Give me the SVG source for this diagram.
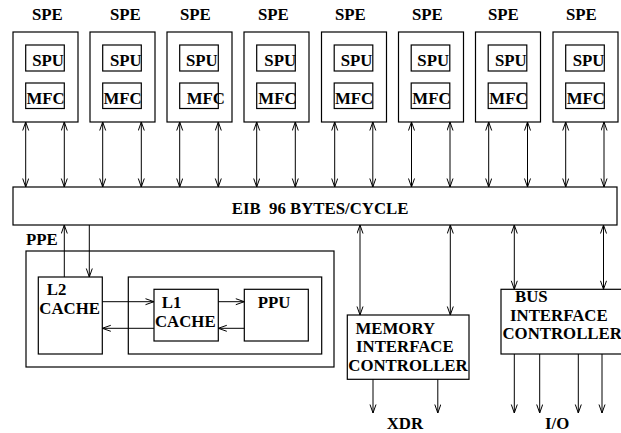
<svg xmlns="http://www.w3.org/2000/svg" width="621" height="433" viewBox="0 0 621 433">
<defs>
<marker id="ah" markerUnits="userSpaceOnUse" markerWidth="10" markerHeight="8" refX="9" refY="3.5" orient="auto-start-reverse">
<path d="M0.5,0.5 L9,3.5 L0.5,6.5" fill="none" stroke="#000" stroke-width="1"/>
</marker>
</defs>
<style>
rect{fill:#fff;stroke:#000;stroke-width:1.2}
text{font-family:"Liberation Serif","Times New Roman",serif;font-weight:bold;font-size:16.8px;fill:#000}
.c line{stroke:#000;stroke-width:1}
.d{marker-start:url(#ah);marker-end:url(#ah)}
.e{marker-end:url(#ah)}
</style>
<rect x="0" y="0" width="621" height="433" style="stroke:none"/>
<g id="spe1"><text x="32" y="20">SPE</text><rect x="13" y="32" width="65" height="90"/><rect x="25.7" y="45" width="38.6" height="26"/><text x="32.2" y="66">SPU</text><rect x="25.7" y="83" width="38.6" height="25.5"/><text x="26.5" y="103.5">MFC</text></g>
<g id="spe2"><text x="110" y="20">SPE</text><rect x="90" y="32" width="65" height="90"/><rect x="102.7" y="45" width="38.6" height="26"/><text x="110" y="66">SPU</text><rect x="102.7" y="83" width="38.6" height="25.5"/><text x="103.5" y="103.5">MFC</text></g>
<g id="spe3"><text x="180" y="20">SPE</text><rect x="167" y="32" width="65" height="90"/><rect x="179.7" y="45" width="38.6" height="26"/><text x="186" y="66">SPU</text><rect x="179.7" y="83" width="38.6" height="25.5"/><text x="186.7" y="103.5">MFC</text></g>
<g id="spe4"><text x="258" y="20">SPE</text><rect x="244" y="32" width="65" height="90"/><rect x="256.7" y="45" width="38.6" height="26"/><text x="264.3" y="66">SPU</text><rect x="256.7" y="83" width="38.6" height="25.5"/><text x="258.3" y="103.5">MFC</text></g>
<g id="spe5"><text x="335" y="20">SPE</text><rect x="321.5" y="32" width="65" height="90"/><rect x="334.2" y="45" width="38.6" height="26"/><text x="340.7" y="66">SPU</text><rect x="334.2" y="83" width="38.6" height="25.5"/><text x="335" y="103.5">MFC</text></g>
<g id="spe6"><text x="412" y="20">SPE</text><rect x="398.5" y="32" width="65" height="90"/><rect x="411.2" y="45" width="38.6" height="26"/><text x="417.3" y="66">SPU</text><rect x="411.2" y="83" width="38.6" height="25.5"/><text x="412.3" y="103.5">MFC</text></g>
<g id="spe7"><text x="488" y="20">SPE</text><rect x="475.5" y="32" width="65" height="90"/><rect x="488.2" y="45" width="38.6" height="26"/><text x="495" y="66">SPU</text><rect x="488.2" y="83" width="38.6" height="25.5"/><text x="489.3" y="103.5">MFC</text></g>
<g id="spe8"><text x="566" y="20">SPE</text><rect x="553" y="32" width="65" height="90"/><rect x="565.7" y="45" width="38.6" height="26"/><text x="572.7" y="66">SPU</text><rect x="565.7" y="83" width="38.6" height="25.5"/><text x="566.7" y="103.5">MFC</text></g>
<g id="eib"><rect x="13" y="187" width="604" height="38"/><text x="231.7" y="213.5" xml:space="preserve">EIB  96 BYTES/CYCLE</text></g>
<g id="ppe"><text x="26" y="245">PPE</text><rect x="26" y="251" width="308" height="116"/><rect x="128.3" y="277" width="193.4" height="77"/></g>
<g id="l2"><rect x="38.3" y="277" width="64" height="77"/><text x="46.7" y="295">L2</text><text x="39.3" y="314.3">CACHE</text></g>
<g id="l1"><rect x="154" y="289.3" width="64.3" height="51.7"/><text x="161.7" y="308.3">L1</text><text x="155" y="326.7">CACHE</text></g>
<g id="ppu"><rect x="244.3" y="289.3" width="64" height="51.7"/><text x="257.7" y="308.3">PPU</text></g>
<g id="mic"><rect x="347.3" y="315" width="121.7" height="64.3"/><text x="355.5" y="333.5">MEMORY</text><text x="356" y="352">INTERFACE</text><text x="348.3" y="370.5">CONTROLLER</text></g>
<g id="bic"><rect x="501" y="289.3" width="122" height="64.7"/><text x="515" y="302">BUS</text><text x="510" y="320.5">INTERFACE</text><text x="502.5" y="339">CONTROLLER</text></g>
<g id="xdr"><text x="386.7" y="429">XDR</text></g>
<g id="io"><text x="545" y="429">I/O</text></g>
<g id="connectors" class="c">
<line class="d" x1="25.7" y1="122" x2="25.7" y2="187"/><line class="d" x1="64.3" y1="122" x2="64.3" y2="187"/>
<line class="d" x1="102.7" y1="122" x2="102.7" y2="187"/><line class="d" x1="141.3" y1="122" x2="141.3" y2="187"/>
<line class="d" x1="179.7" y1="122" x2="179.7" y2="187"/><line class="d" x1="218.3" y1="122" x2="218.3" y2="187"/>
<line class="d" x1="256.7" y1="122" x2="256.7" y2="187"/><line class="d" x1="295.3" y1="122" x2="295.3" y2="187"/>
<line class="d" x1="334.7" y1="122" x2="334.7" y2="187"/><line class="d" x1="372.8" y1="122" x2="372.8" y2="187"/>
<line class="d" x1="411.5" y1="122" x2="411.5" y2="187"/><line class="d" x1="450" y1="122" x2="450" y2="187"/>
<line class="d" x1="488.7" y1="122" x2="488.7" y2="187"/><line class="d" x1="527.5" y1="122" x2="527.5" y2="187"/>
<line class="d" x1="565.7" y1="122" x2="565.7" y2="187"/><line class="d" x1="604" y1="122" x2="604" y2="187"/>
<line class="e" x1="64.3" y1="277" x2="64.3" y2="225"/>
<line class="e" x1="89.3" y1="225" x2="89.3" y2="277"/>
<line class="e" x1="102.3" y1="301.7" x2="154" y2="301.7"/>
<line class="e" x1="154" y1="328.3" x2="102.3" y2="328.3"/>
<line class="e" x1="218.3" y1="301.7" x2="244.3" y2="301.7"/>
<line class="e" x1="244.3" y1="328.3" x2="218.3" y2="328.3"/>
<line class="d" x1="360" y1="225" x2="360" y2="315"/>
<line class="d" x1="450.3" y1="225" x2="450.3" y2="315"/>
<line class="d" x1="514.3" y1="225" x2="514.3" y2="289.3"/>
<line class="d" x1="603.5" y1="225" x2="603.5" y2="289.3"/>
<line class="e" x1="373" y1="379.3" x2="373" y2="413"/>
<line class="e" x1="437.8" y1="379.3" x2="437.8" y2="413"/>
<line class="e" x1="514.3" y1="354" x2="514.3" y2="413"/>
<line class="e" x1="539.7" y1="354" x2="539.7" y2="413"/>
<line class="e" x1="578.3" y1="354" x2="578.3" y2="413"/>
<line class="e" x1="602" y1="354" x2="602" y2="413"/>
</g>
</svg>
